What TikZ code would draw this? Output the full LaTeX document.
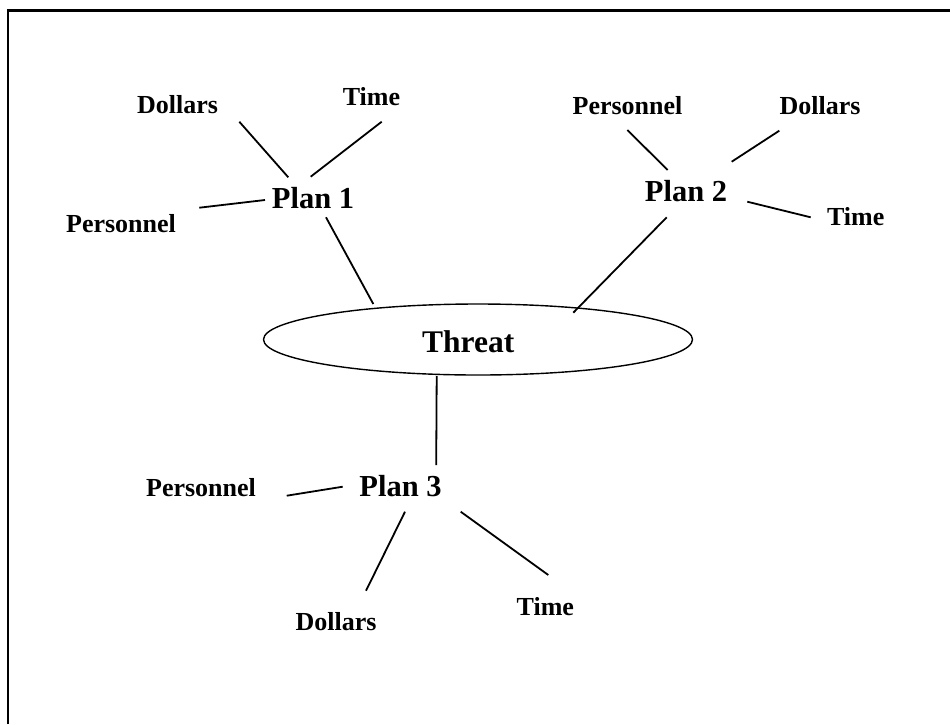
\documentclass[tikz,border=0pt]{standalone}
\usepackage{fontspec}
\setmainfont{Liberation Serif}
\usetikzlibrary{shapes.geometric}
\begin{document}
\begin{tikzpicture}[x=1pt,y=-1pt,
  lbl/.style={font=\fontsize{26}{26}\selectfont\bfseries, inner sep=0pt, anchor=base},
  plan/.style={font=\fontsize{30.5}{30}\selectfont\bfseries, inner sep=0pt, anchor=base},
  conn/.style={line width=1.8pt},
  frame/.style={line width=2.4pt}]
\useasboundingbox (0,0) rectangle (950,724);
% frame
\coordinate (fbl) at (8,724);
\coordinate (ftl) at (8,10.5);
\coordinate (ftr) at (950,10.5);
\draw[frame] (fbl) -- (ftl) -- (ftr);

% Threat
\node[draw, ellipse, line width=1.4pt, minimum width=429, minimum height=71, inner sep=0pt] (threatshape) at (478,339.5) {};
\node[font=\fontsize{31.5}{31}\selectfont\bfseries, inner sep=0pt, anchor=base] (threat) at (468.3,352.7) {Threat};

% Plan 1
\node[plan] (plan1) at (313,208) {Plan 1};
\node[lbl] (p1dol) at (177.5,113.3) {Dollars};
\node[lbl] (p1time) at (371.5,105.7) {Time};
\node[lbl] (p1pers) at (121,232.7) {Personnel};
\coordinate (a1) at (239.3,121.7); \coordinate (a2) at (288.3,177.3);
\coordinate (b1) at (381.7,121.7); \coordinate (b2) at (310.7,176.7);
\coordinate (c1) at (199.3,207.7); \coordinate (c2) at (265,200);
\coordinate (d1) at (326,217.3);   \coordinate (d2) at (373.3,304);
\draw[conn] (a1) -- (a2);
\draw[conn] (b1) -- (b2);
\draw[conn] (c1) -- (c2);
\draw[conn] (d1) -- (d2);

% Plan 2
\node[plan] (plan2) at (686,201.7) {Plan 2};
\node[lbl] (p2pers) at (627.5,114.3) {Personnel};
\node[lbl] (p2dol) at (820,114.3) {Dollars};
\node[lbl] (p2time) at (855.7,225.7) {Time};
\coordinate (e1) at (627.3,130);   \coordinate (e2) at (667.7,170);
\coordinate (f1) at (779.3,130.7); \coordinate (f2) at (731.7,161.7);
\coordinate (g1) at (747.3,201.7); \coordinate (g2) at (810.7,217.3);
\coordinate (h1) at (666.7,217.3); \coordinate (h2) at (573.3,312.7);
\draw[conn] (e1) -- (e2);
\draw[conn] (f1) -- (f2);
\draw[conn] (g1) -- (g2);
\draw[conn] (h1) -- (h2);

% Plan 3
\node[plan] (plan3) at (400.5,496) {Plan 3};
\node[lbl] (p3pers) at (201,496) {Personnel};
\node[lbl] (p3dol) at (336,630) {Dollars};
\node[lbl] (p3time) at (545.3,615) {Time};
\coordinate (i1) at (436.7,376);   \coordinate (i2) at (436.2,465);
\coordinate (j1) at (286.7,495.7); \coordinate (j2) at (342.7,486.7);
\coordinate (k1) at (405,511.7);   \coordinate (k2) at (366,590.7);
\coordinate (l1) at (460.7,511.7); \coordinate (l2) at (548.3,575);
\draw[conn] (i1) -- (i2);
\draw[conn] (j1) -- (j2);
\draw[conn] (k1) -- (k2);
\draw[conn] (l1) -- (l2);
\end{tikzpicture}
\end{document}
